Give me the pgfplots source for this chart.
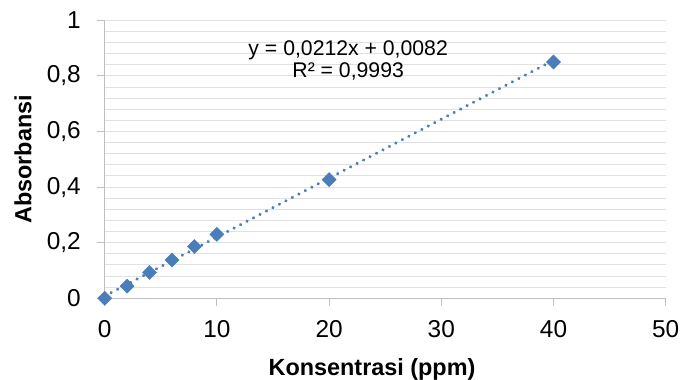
\documentclass[border=0pt]{standalone}
\usepackage{pgfplots}
\pgfplotsset{compat=1.18}
\usepackage{fontspec}
\setmainfont{Liberation Sans}
\definecolor{xblue}{RGB}{74,126,187}
\definecolor{axgray}{RGB}{191,191,191}
\definecolor{grgray}{RGB}{225,225,225}
\begin{document}
\begin{tikzpicture}
\begin{axis}[
  scale only axis,
  width=561bp, height=278bp,
  xmin=0, xmax=50, ymin=0, ymax=1,
  axis x line*=bottom, axis y line*=left,
  axis line style={axgray, line width=1bp, -},
  xtick={0,10,20,30,40,50},
  ytick={0,0.2,0.4,0.6,0.8,1},
  minor y tick num=4,
  ymajorgrids, yminorgrids,
  major grid style={grgray, line width=1bp},
  minor grid style={grgray, line width=1bp},
  tick align=outside,
  major tick length=8bp, minor tick length=0pt,
  tick style={axgray, line width=1bp},
  /pgf/number format/use comma,
  /pgf/number format/assume math mode=true,
  ticklabel style={font=\fontsize{24.5}{29}\selectfont, inner sep=0pt},
  xticklabel style={anchor=north, yshift=-14.4bp},
  yticklabel style={anchor=east, xshift=-15.7bp},
  xlabel={\textbf{Konsentrasi (ppm)}},
  ylabel={\textbf{Absorbansi}},
  label style={font=\fontsize{23.5}{28}\selectfont, inner sep=0pt},
  xlabel style={at={(axis description cs:0.4765,0)}, anchor=north, yshift=-59.7bp},
  ylabel style={at={(axis description cs:-0.1456,0.5)}, anchor=center, rotate=0},
  clip=false,
]
\addplot[xblue, line width=3.4bp, line cap=round, dash pattern=on 0.01bp off 7.3bp]
  coordinates {(0,0.0082) (40,0.8562)};
\addplot[only marks, mark=square*, mark size=5bp, mark options={rotate=45, xblue, fill=xblue}]
  coordinates {(0,0) (2,0.044) (4,0.093) (6,0.138) (8,0.186) (10,0.230) (20,0.427) (40,0.850)};
\node[align=center, font=\fontsize{21.3}{22}\selectfont] at (axis cs:21.7,0.854)
  {y = 0,0212x + 0,0082\\R² = 0,9993};
\coordinate (o) at (rel axis cs:0,0);
\end{axis}
\pgfresetboundingbox
\path (o) ++(-104.7bp,-81.7bp) rectangle ++(681bp,380bp);
\end{tikzpicture}
\end{document}
